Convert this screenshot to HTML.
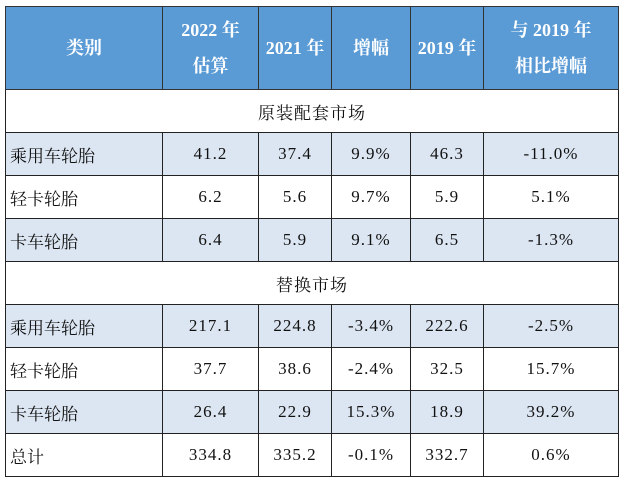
<!DOCTYPE html>
<html><head><meta charset="utf-8"><style>
html,body{margin:0;padding:0;background:#fff;width:622px;height:483px;overflow:hidden}
table{position:absolute;left:5px;top:6px;border-collapse:collapse;table-layout:fixed;width:613px}
td{border:1.5px solid #222;text-align:center;font-family:"Liberation Serif","Noto Serif CJK SC",serif;font-size:17px;color:#111;padding:0;height:42px;letter-spacing:1px}
td.l{text-align:left;padding-left:4px;letter-spacing:0}
thead td{background:#5b9bd5;color:#fff;font-weight:bold;font-size:18px;height:82px;line-height:36px;border-color:#333;letter-spacing:0}
tr.b td{background:#dce6f2}
</style></head><body>
<table>
<colgroup><col style="width:157px"><col style="width:96px"><col style="width:73px"><col style="width:79px"><col style="width:73px"><col style="width:135px"></colgroup>
<thead><tr>
<td>类别</td>
<td>2022 年<br>估算</td>
<td>2021 年</td>
<td>增幅</td>
<td>2019 年</td>
<td>与 2019 年<br>相比增幅</td>
</tr></thead>
<tbody>
<tr class="s"><td colspan="6">原装配套市场</td></tr>
<tr class="b"><td class="l">乘用车轮胎</td><td>41.2</td><td>37.4</td><td>9.9%</td><td>46.3</td><td>-11.0%</td></tr>
<tr><td class="l">轻卡轮胎</td><td>6.2</td><td>5.6</td><td>9.7%</td><td>5.9</td><td>5.1%</td></tr>
<tr class="b"><td class="l">卡车轮胎</td><td>6.4</td><td>5.9</td><td>9.1%</td><td>6.5</td><td>-1.3%</td></tr>
<tr class="s"><td colspan="6">替换市场</td></tr>
<tr class="b"><td class="l">乘用车轮胎</td><td>217.1</td><td>224.8</td><td>-3.4%</td><td>222.6</td><td>-2.5%</td></tr>
<tr><td class="l">轻卡轮胎</td><td>37.7</td><td>38.6</td><td>-2.4%</td><td>32.5</td><td>15.7%</td></tr>
<tr class="b"><td class="l">卡车轮胎</td><td>26.4</td><td>22.9</td><td>15.3%</td><td>18.9</td><td>39.2%</td></tr>
<tr><td class="l">总计</td><td>334.8</td><td>335.2</td><td>-0.1%</td><td>332.7</td><td>0.6%</td></tr>
</tbody></table>
</body></html>
